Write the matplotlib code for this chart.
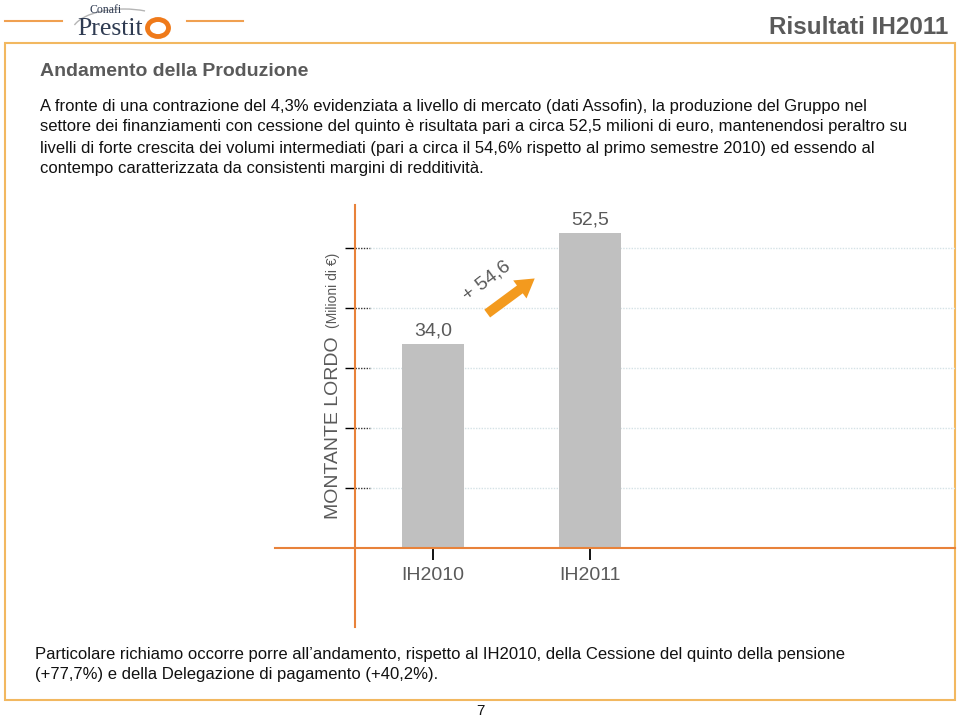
import matplotlib
matplotlib.use('Agg')
import matplotlib.pyplot as plt
from matplotlib.patches import Rectangle, Ellipse, Arc, FancyArrowPatch

plt.rcParams['font.family'] = ['Liberation Sans', 'DejaVu Sans']

# dati
categorie = ['IH2010', 'IH2011']
valori = [34.0, 52.5]
etichette = ['34,0', '52,5']
crescita = '+ 54,6'
y_ticks = [10, 20, 30, 40, 50]

testo_sopra = [
    'A fronte di una contrazione del 4,3% evidenziata a livello di mercato (dati Assofin), la produzione del Gruppo nel',
    'settore dei finanziamenti con cessione del quinto è risultata pari a circa 52,5 milioni di euro, mantenendosi peraltro su',
    'livelli di forte crescita dei volumi intermediati (pari a circa il 54,6% rispetto al primo semestre 2010) ed essendo al',
    'contempo caratterizzata da consistenti margini di redditività.',
]
testo_sotto = [
    'Particolare richiamo occorre porre all\u2019andamento, rispetto al IH2010, della Cessione del quinto della pensione',
    '(+77,7%) e della Delegazione di pagamento (+40,2%).',
]

arancio = '#e8823a'
grigio = '#5a5a5a'

fig = plt.figure(figsize=(9.6, 7.21), dpi=100)

# sfondo in coordinate pixel
bg = fig.add_axes([0, 0, 1, 1])
bg.set_xlim(0, 960)
bg.set_ylim(721, 0)
bg.axis('off')

# intestazione (logo approssimato)
bg.plot([5, 62], [21, 21], color='#f0a050', lw=1.5)
bg.plot([187, 243], [21, 21], color='#f0a050', lw=1.5)
bg.add_patch(Arc((124, 32), 104, 46, theta1=188, theta2=315, color='#b5b5b5', lw=1))
bg.text(106, 10, 'Conafi', family='Liberation Serif', fontsize=8.5, color='#2f3b52',
        ha='center', va='center')
bg.text(110, 29, 'Prestit', family='Liberation Serif', fontsize=18.5, color='#2f3b52',
        ha='center', va='center')
bg.add_patch(Ellipse((158, 28), 21, 17, fill=False, ec='#ef7a1a', lw=3.5))
bg.text(948, 27, 'Risultati IH2011', fontsize=17.5, fontweight='bold', color=grigio,
        ha='right', va='center')

# cornice
bg.add_patch(Rectangle((5, 43), 950, 657, fill=False, ec='#f2b860', lw=1.5))

bg.text(40, 71, 'Andamento della Produzione', fontsize=14, fontweight='bold',
        color=grigio, va='center')
for i, riga in enumerate(testo_sopra):
    bg.text(40, 106 + i * 21, riga, fontsize=12, color='#111111', va='center')
for i, riga in enumerate(testo_sotto):
    bg.text(35, 655 + i * 20, riga, fontsize=12, color='#111111', va='center')
bg.text(480, 711, '7', fontsize=11, color='#111111', ha='center', va='center')

# etichetta asse y
bg.text(333, 428, 'MONTANTE LORDO', fontsize=14, color=grigio, rotation=90,
        ha='center', va='center')
bg.text(333, 290, '(Milioni di \u20ac)', fontsize=10, color=grigio, rotation=90,
        ha='center', va='center')

# grafico
ax = fig.add_axes([355 / 960, (721 - 548) / 721, 600 / 960, (548 - 205) / 721])
ax.patch.set_alpha(0)
x = list(range(len(categorie)))
ax.bar(x, valori, width=0.395, color='#c0c0c0', zorder=2)
ax.set_xlim(-0.497, 3.325)
ax.set_ylim(0, 343 / 6.0)

for s in ax.spines.values():
    s.set_visible(False)

# assi arancioni prolungati
ax.plot([-80 / 600, 1], [0, 0], transform=ax.transAxes, color=arancio, lw=1.5,
        clip_on=False, zorder=3)
ax.plot([0, 0], [-79 / 343, 1], transform=ax.transAxes, color=arancio, lw=1.5,
        clip_on=False, zorder=3)

# griglia
for t in y_ticks:
    ax.plot([0, 15 / 600], [t, t], transform=ax.get_yaxis_transform(), color='#333333',
            lw=1, ls=(0, (1, 1)), zorder=1)
    ax.plot([15 / 600, 1], [t, t], transform=ax.get_yaxis_transform(), color='#d5e2e6',
            lw=1, ls=(0, (1, 1)), zorder=1)

ax.set_yticks(y_ticks)
ax.set_yticklabels([])
ax.tick_params(axis='y', direction='out', length=7, width=1, color='black')
ax.set_xticks(x)
ax.set_xticklabels(categorie, fontsize=14, color=grigio)
ax.tick_params(axis='x', direction='inout', length=17, width=1.3, color='black', pad=5)

for xi, v, lab in zip(x, valori, etichette):
    ax.annotate(lab, (xi, v), xytext=(0, 3), textcoords='offset points',
                ha='center', va='bottom', fontsize=14, color=grigio)

# freccia di crescita
ax.add_patch(FancyArrowPatch((0.331, 38.8), (0.662, 45.2),
                             arrowstyle='simple,head_width=1.15,head_length=0.95,tail_width=0.5',
                             mutation_scale=14, color='#f39a1e', lw=0, zorder=4))
ax.text(0.344, 44.5, crescita, fontsize=14, color=grigio, rotation=37,
        ha='center', va='center')

fig.savefig('out.png', dpi=100)
